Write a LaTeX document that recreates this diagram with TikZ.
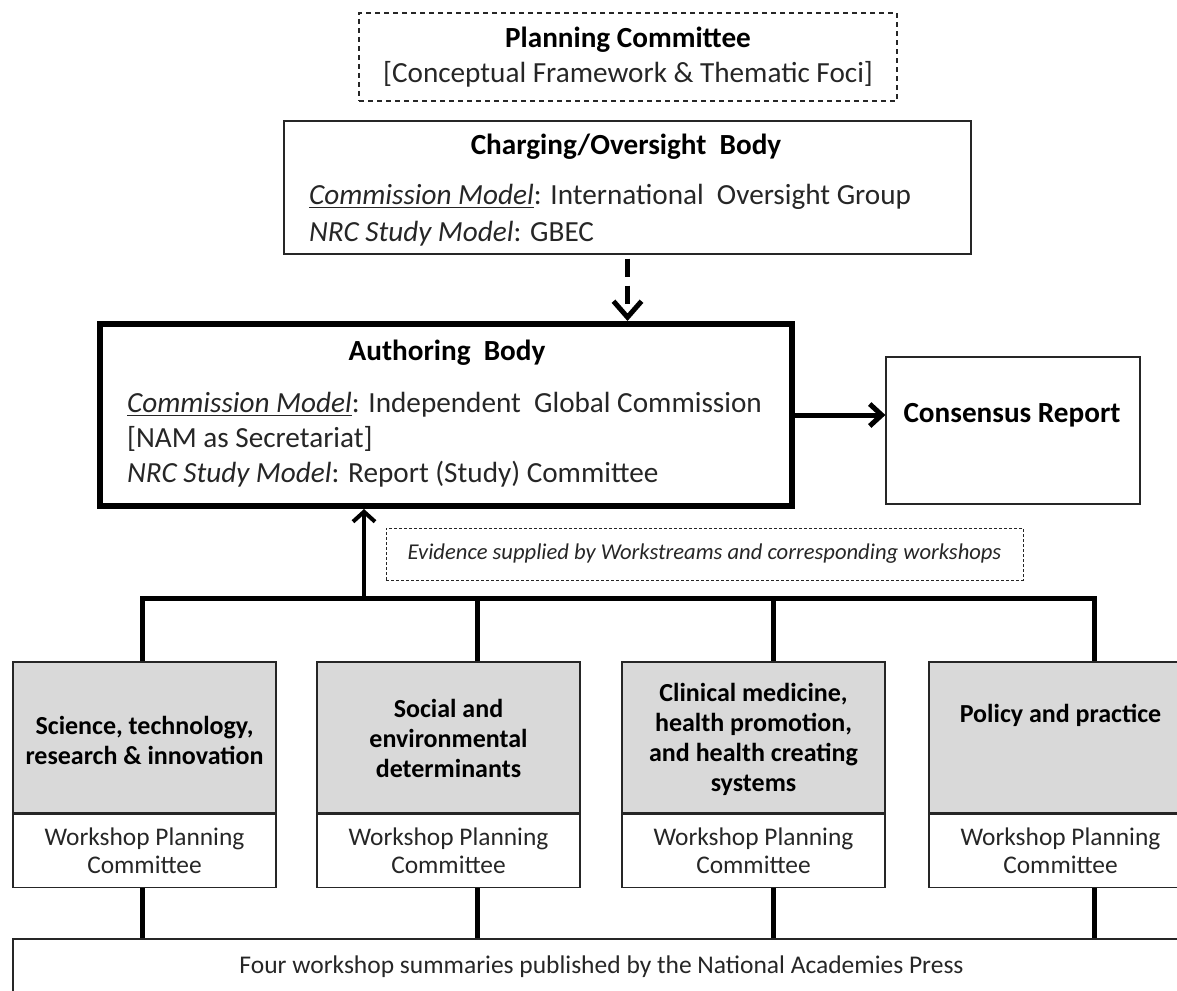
\documentclass[tikz,border=0pt]{standalone}
\usepackage{fontspec}
\setmainfont{Carlito}
\usepackage{xcolor}
\usetikzlibrary{arrows.meta}
\usetikzlibrary{calc}
\usetikzlibrary{positioning}

\definecolor{wsgray}{RGB}{217,217,217}

\begin{document}
\begin{tikzpicture}[x=0.5pt, y=-0.5pt]
  \tikzstyle{box}=[draw=black!85, line width=0.6pt, inner sep=0pt]
  \tikzstyle{big}=[font=\fontsize{14.6}{17.5}\selectfont, text=black!85]
  \tikzstyle{head}=[font=\fontsize{14.6}{17.5}\selectfont\bfseries]
  \tikzstyle{tall}=[font=\fontsize{13}{15}\selectfont\bfseries, align=center]
  \tikzstyle{small}=[font=\fontsize{12.7}{14}\selectfont, align=center, text=black!85]
  \tikzstyle{heavy}=[line width=2.5pt]

  \useasboundingbox (0,0) rectangle (1177,990);

  % planning and oversight
  \node[box, dash pattern=on 2.5pt off 2pt, minimum width=269pt, minimum height=44pt,
        align=center, big] (planning) at (628,57)
        {\textbf{\color{black}Planning Committee}\\{[}Conceptual Framework \& Thematic Foci{]}};
  \node[box, minimum width=343.5pt, minimum height=66.5pt] (charging) at (627.5,187.5) {};
  \node[head] (chargingtitle) at (626,147) {Charging/Oversight\ \ Body};
  \node[big, anchor=west, align=left, font=\fontsize{14.6}{18.5}\selectfont] (chargingtext) at (302,215)
        {\underline{\textit{Commission Model}}: International\ \ Oversight Group\\\textit{NRC Study Model}: GBEC};

  % authoring body and report
  \node[box, draw=black, line width=3pt, minimum width=346pt, minimum height=91pt] (authoring) at (446,415) {};
  \node[head] (authoringtitle) at (447,353) {Authoring\ \ Body};
  \node[big, anchor=west, align=left] (authoringtext) at (120,440)
        {\underline{\textit{Commission Model}}: Independent\ \ Global Commission\\{[}NAM as Secretariat{]}\\\textit{NRC Study Model}: Report (Study) Committee};
  \node[box, minimum width=127pt, minimum height=73.5pt] (consensus) at (1013,430.5) {};
  \node[head] (consensustext) at (1012,415) {Consensus Report};

  \draw[heavy, dash pattern=on 9pt off 4.5pt, -{Straight Barb[length=8pt,width=14pt]}]
        ($(charging.south)+(0,4)$) -- (charging.south |- authoring.north);
  \draw[heavy, -{Straight Barb[length=6pt,width=11pt]}] (authoring.east) -- (authoring.east -| consensus.west);

  \node[box, line width=0.5pt, dash pattern=on 1.5pt off 1pt, minimum width=318.5pt, minimum height=26pt,
        font=\fontsize{11.3}{13}\selectfont\itshape, text=black!85] (evidence) at (704.5,554)
        {Evidence supplied by Workstreams and corresponding workshops};

  \node[box, minimum width=588.5pt, minimum height=28pt, font=\fontsize{12.75}{14}\selectfont, text=black!85]
        (summaries) at (601.5,967) {Four workshop summaries published by the National Academies Press};

  % the four workstreams
  \foreach \n/\x/\dx/\ty/\lbl in {1/144.5/142/740/{Science, technology,\\research \& innovation},
        2/448.5/477/738/{Social and\\environmental\\determinants},
        3/753.5/773/739/{Clinical medicine,\\health promotion,\\and health creating\\systems},
        4/1060.5/1094/715/{Policy and practice}}{
    \node[box, fill=wsgray, minimum width=131.5pt, minimum height=75.5pt] (ws\n) at (\x,737.5) {};
    \node[tall] (wstext\n) at (\x,\ty) {\lbl};
    \node[box, small, minimum width=131.5pt, minimum height=36.5pt] (wpc\n) at (\x,851) {Workshop Planning\\Committee};
    \coordinate (drop\n) at (\dx,598);
    \draw[heavy] (drop\n |- wpc\n.south) -- (drop\n |- summaries.north);
  }
  \draw[heavy] (drop1 |- ws1.north) -- (drop1) -- (drop4) -- (drop4 |- ws4.north);
  \foreach \n in {2,3}
    \draw[heavy] (drop\n) -- (drop\n |- ws\n.north);

  \coordinate (feed) at (364,598);
  \draw[line width=2pt, -{Straight Barb[length=5pt,width=11pt]}] (feed) -- (feed |- authoring.south);
\end{tikzpicture}
\end{document}
